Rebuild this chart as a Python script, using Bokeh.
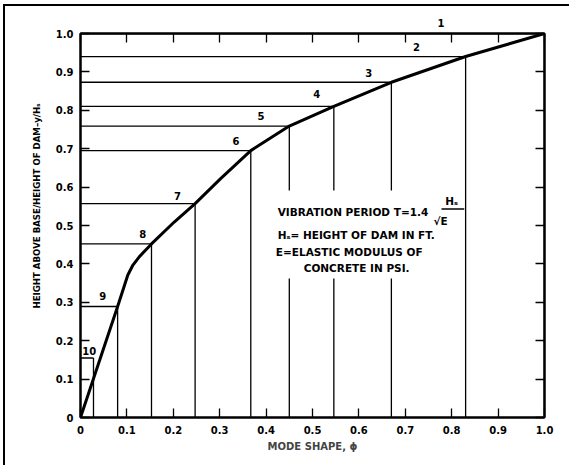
from bokeh.plotting import figure
from bokeh.models import LinearAxis, FixedTicker, Label, BoxAnnotation, Range1d, ColumnDataSource, Title
from bokeh.core.properties import value
from bokeh.embed import file_html
from bokeh.resources import INLINE

# ---------------- data ----------------
x_ticks = [0, 0.1, 0.2, 0.3, 0.4, 0.5, 0.6, 0.7, 0.8, 0.9, 1.0]
x_tick_labels = ["0", "0.1", "0.2", "0.3", "0.4", "0.5", "0.6", "0.7", "0.8", "0.9", "1.0"]
y_ticks = [0, 0.1, 0.2, 0.3, 0.4, 0.5, 0.6, 0.7, 0.8, 0.9, 1.0]
y_tick_labels = ["0", "0.1", "0.2", "0.3", "0.4", "0.5", "0.6", "0.7", "0.8", "0.9", "1.0"]

# mode shape curve (phi vs y/Hs)
curve_phi = [0, 0.08, 0.091, 0.102, 0.113, 0.127, 0.153, 0.202, 0.247, 0.302, 0.367, 0.45, 0.546, 0.67, 0.83, 1.0]
curve_h = [0, 0.289, 0.33, 0.371, 0.397, 0.419, 0.452, 0.509, 0.557, 0.622, 0.695, 0.759, 0.81, 0.873, 0.94, 1.0]

# numbered steps (dam divided into 10 sections)
step_names = ["1", "2", "3", "4", "5", "6", "7", "8", "9", "10"]
step_phi = [1.0, 0.83, 0.67, 0.546, 0.45, 0.367, 0.247, 0.153, 0.08, 0.028]
step_h = [1.0, 0.94, 0.873, 0.81, 0.759, 0.695, 0.557, 0.452, 0.289, 0.155]

# label anchor positions for the step numbers
label_phi = [0.777, 0.724, 0.621, 0.509, 0.389, 0.335, 0.209, 0.134, 0.048, 0.019]
label_dy = [0.023, 0.024, 0.025, 0.032, 0.027, 0.024, 0.021, 0.026, 0.027, 0.017]

FONT = "DejaVu Sans"

p = figure(width=566, height=461, x_range=Range1d(0, 1), y_range=Range1d(0, 1),
           output_backend="svg", toolbar_location=None,
           min_border_left=75, min_border_right=27, min_border_top=27, min_border_bottom=50)
p.styles = {"border-left": "2px solid black", "border-top": "2px solid black",
            "margin-left": "3px", "margin-top": "4px"}
p.background_fill_color = "white"
p.border_fill_color = "white"
p.outline_line_color = "black"
p.outline_line_width = 2
p.xgrid.visible = False
p.ygrid.visible = False


def style_labels(ax, ticks, labels, standoff):
    ax.major_label_overrides = dict(zip(ticks, labels))
    ax.major_label_text_font = FONT
    ax.major_label_text_font_style = "bold"
    ax.major_label_text_font_size = "10px"
    ax.major_label_text_color = "black"
    ax.major_label_standoff = standoff


def style_main(ax, ticks):
    ax.ticker = FixedTicker(ticks=ticks)
    ax.major_tick_in = 9
    ax.major_tick_out = 0
    ax.major_tick_line_width = 1.3
    ax.major_tick_line_color = "black"
    ax.minor_tick_line_color = None
    ax.axis_line_color = "black"
    ax.axis_line_width = 2


xa = p.xaxis[0]
style_main(xa, x_ticks)
style_labels(xa, x_ticks, x_tick_labels, 8)
xa.axis_label = "MODE SHAPE, ϕ"
xa.axis_label_text_font = FONT
xa.axis_label_text_font_style = "bold"
xa.axis_label_text_font_size = "10px"
xa.axis_label_standoff = 4

ya = p.yaxis[0]
style_main(ya, y_ticks)
style_labels(ya, y_ticks, y_tick_labels, 7)

# top axis: tick marks only, plus the number of the top section
top_ax = LinearAxis(ticker=FixedTicker(ticks=[label_phi[0]], minor_ticks=x_ticks))
top_ax.major_tick_line_color = None
top_ax.minor_tick_in = 9
top_ax.minor_tick_out = 0
top_ax.minor_tick_line_width = 1.3
top_ax.minor_tick_line_color = "black"
top_ax.axis_line_color = "black"
top_ax.axis_line_width = 2
style_labels(top_ax, [label_phi[0]], [step_names[0]], 1)
p.add_layout(top_ax, "above")

right_ax = LinearAxis(ticker=FixedTicker(ticks=[], minor_ticks=y_ticks))
right_ax.major_tick_line_color = None
right_ax.minor_tick_in = 9
right_ax.minor_tick_out = 0
right_ax.minor_tick_line_width = 1.3
right_ax.minor_tick_line_color = "black"
right_ax.axis_line_color = "black"
right_ax.axis_line_width = 2
p.add_layout(right_ax, "right")

# y axis title
p.add_layout(Title(text="HEIGHT ABOVE BASE/HEIGHT OF DAM–y/Hₛ", align="left", offset=109,
                   text_font=FONT, text_font_style="bold", text_font_size="8.6px",
                   text_color="black", standoff=21), "left")

# step lines
src = ColumnDataSource(dict(phi=step_phi, h=step_h, zero=[0] * len(step_phi)))
p.segment(x0="zero", y0="h", x1="phi", y1="h", source=src, line_color="black", line_width=1.3)
p.segment(x0="phi", y0="h", x1="phi", y1="zero", source=src, line_color="black", line_width=1.3)

# curve
p.line(curve_phi, curve_h, line_color="black", line_width=3, line_join="round")

# step numbers (the top one is drawn by the top axis)
lab_src = ColumnDataSource(dict(x=label_phi[1:], y=[h + d for h, d in zip(step_h[1:], label_dy[1:])],
                                t=step_names[1:]))
p.text(x="x", y="y", text="t", source=lab_src, text_font=value(FONT), text_font_style="bold",
       text_font_size="10px", text_align="center", text_baseline="middle", text_color="black")

# white gap behind the note text
p.add_layout(BoxAnnotation(left=0.40, right=0.81, bottom=0.362, top=0.591,
                           fill_color="white", fill_alpha=1, line_color=None))


def lab(x, y, text, size="10.5px", align="left"):
    p.add_layout(Label(x=x, y=y, text=text, text_font=FONT, text_font_style="bold",
                       text_font_size=size, text_align=align, text_baseline="middle",
                       text_color="black"))


lab(0.425, 0.534, "VIBRATION PERIOD T=1.4")
lab(0.800, 0.563, "Hₛ", align="center")
p.add_layout(BoxAnnotation(left=0.778, right=0.827, bottom=0.541, top=0.545,
                           fill_color="black", fill_alpha=1, line_color=None))
lab(0.761, 0.512, "√E")
lab(0.425, 0.474, "Hₛ= HEIGHT OF DAM IN FT.")
lab(0.421, 0.430, "E=ELASTIC MODULUS OF")
lab(0.481, 0.390, "CONCRETE IN PSI.")

open("out.html", "w").write(file_html(p, INLINE))
